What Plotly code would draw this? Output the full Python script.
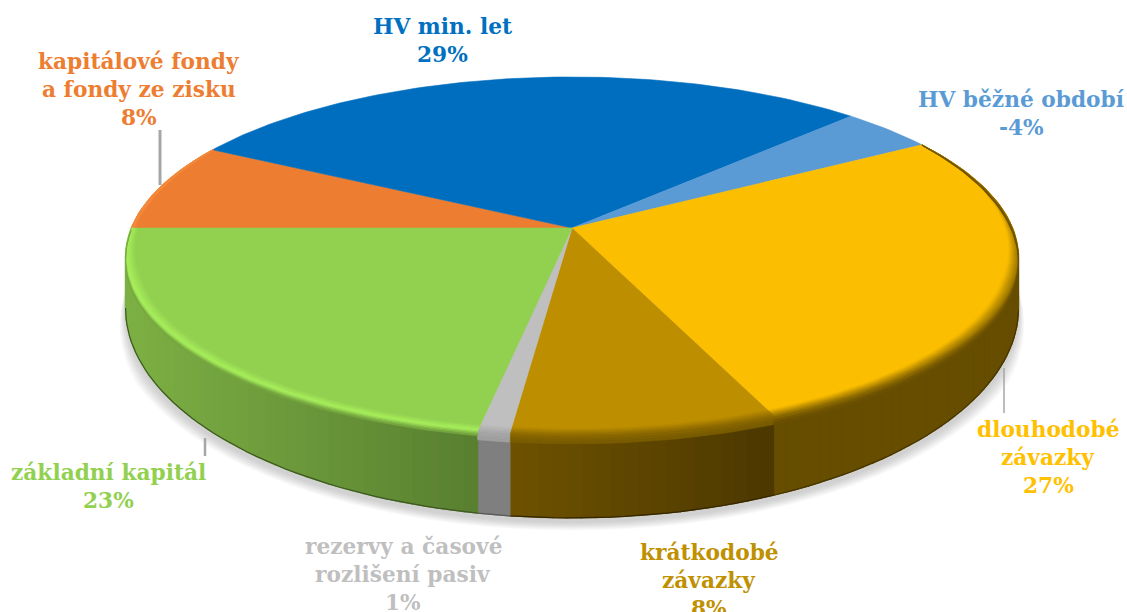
import math
import plotly.graph_objects as go

# ---- data (clockwise, starting at the left of the pie)
categories = ["kapitálové fondy a fondy ze zisku", "HV min. let", "HV běžné období",
              "dlouhodobé závazky", "krátkodobé závazky", "rezervy a časové rozlišení pasiv",
              "základní kapitál"]
values = [8.0, 29.4, -4.0, 27.2, 8.3, 1.0, 22.1]
top_colors = ["#ED7D31", "#006EBE", "#5B9BD5", "#FBBE00", "#BD8E00", "#BFBFBF", "#92D050"]
side_left = ["#B5601F", "#004A80", "#3D6E9C", "#664D00", "#6E5200", "#7F7F7F", "#7DB044"]
side_right = ["#B5601F", "#004A80", "#3D6E9C", "#664D00", "#4C3800", "#7F7F7F", "#587F30"]
rim_colors = ["#F58A3C", None, None, "#6A5000", "#7A5C00", "#A0A0A0", "#A8F05C"]
label_lines = [["kapitálové fondy", "a fondy ze zisku", "8%"], ["HV min. let", "29%"],
               ["HV běžné období", "-4%"], ["dlouhodobé", "závazky", "27%"],
               ["krátkodobé", "závazky", "8%"], ["rezervy a časové", "rozlišení pasiv", "1%"],
               ["základní kapitál", "23%"]]
label_x = [139, 442, 1021, 1048, 709, 403, 108]
label_y = [61, 26, 99, 429, 552, 546, 472]
label_colors = ["#ED7D31", "#0070C0", "#5B9BD5", "#FFC000", "#BF9000", "#BFBFBF", "#92D050"]

# ---- projection of the pie disc
CX, CY, A, B, K = 572, 228, 441, 174.6, 0.156
START = -90.0


def project(deg, r=1.0, off=0.0):
    a = math.radians(deg)
    u, v = r * math.sin(a), r * math.cos(a)
    w = 1 + K * v
    return CX + A * u / w, CY - B * v / w + off


def wall(deg, r=1.0, extra=0.0):
    """point on the lower edge of the side wall"""
    x, y = project(deg, r)
    return x, y + 52 + 31 * (y - 256) / 179 + extra


def hexrgb(c):
    return tuple(int(c[i:i + 2], 16) for i in (1, 3, 5))


def mix(c1, c2, t):
    a, b = hexrgb(c1), hexrgb(c2)
    return "rgb(%d,%d,%d)" % tuple(round(a[i] + (b[i] - a[i]) * t) for i in range(3))


total = sum(abs(x) for x in values)
bounds = [START]
for x in values:
    bounds.append(bounds[-1] + abs(x) / total * 360)


def arc(a0, a1, n):
    return [a0 + (a1 - a0) * i / n for i in range(n + 1)]


fig = go.Figure()


def poly(pts, color, opacity=1.0, name=None, lw=None):
    fig.add_trace(go.Scatter(x=[p[0] for p in pts] + [pts[0][0]], y=[p[1] for p in pts] + [pts[0][1]],
                             mode="lines", fill="toself", fillcolor=color, opacity=opacity,
                             line=dict(width=(0.6 if lw is None else lw) if opacity == 1 else 0, color=color),
                             hoverinfo="skip" if name is None else "name", name=name or "",
                             showlegend=False))


SIL = -K  # cos(angle) of the silhouette points of the disc

# soft shadow under the pie
for i in range(10):
    grow = 0.03 - i * 0.003
    pts = []
    for d in range(90, 271, 3):
        fade = min(1.0, max(0.0, -math.cos(math.radians(d))) / 0.45)
        pts.append(wall(d, 1 + grow * fade, 4 * fade))
    poly(pts, "#707070", 0.035)

# side wall, with a gradient inside each slice
for i in range(len(values)):
    a0, a1 = bounds[i], bounds[i + 1]
    n = max(2, int(abs(a1 - a0) / 1.5))
    seq = arc(a0, a1, n)
    xs = [project(d)[0] for d in seq]
    lo, hi = min(xs), max(xs)
    for j in range(n):
        d0, d1 = seq[j], seq[j + 1]
        if math.cos(math.radians((d0 + d1) / 2)) > SIL + 0.03:
            continue
        t = ((xs[j] + xs[j + 1]) / 2 - lo) / max(hi - lo, 1)
        col = mix(side_left[i], side_right[i], t)
        poly([project(d0), project(d1), wall(d1), wall(d0)], col, lw=1.3)
    # dark lower edge
    vis = [d for d in seq if math.cos(math.radians(d)) <= SIL]
    if len(vis) > 1:
        pts = [wall(d) for d in vis]
        fig.add_trace(go.Scatter(x=[p[0] for p in pts], y=[p[1] for p in pts], mode="lines",
                                 line=dict(width=1.2, color=mix(side_right[i], "#000000", 0.3)),
                                 hoverinfo="skip", showlegend=False))

# top face of each slice
for i, cat in enumerate(categories):
    seq = arc(bounds[i], bounds[i + 1], max(3, int(abs(bounds[i + 1] - bounds[i]))))
    poly([(CX, CY)] + [project(d) for d in seq], top_colors[i], name=cat)

# bevel between the top face and the side wall
LAYERS = 9
for i in range(len(values)):
    if rim_colors[i] is None:
        continue
    seq = arc(bounds[i], bounds[i + 1], max(3, int(abs(bounds[i + 1] - bounds[i]) / 1.5)))
    drop = 5 if i == 6 else 9
    for l in range(LAYERS):
        t0, t1 = l / LAYERS, (l + 1) / LAYERS

        def band(d, t):
            v = math.cos(math.radians(d))
            f = max(0.0, min(1.0, (0.6 - v) / 0.9))
            r = 1 - 0.026 * f * (1 - min(t / 0.6, 1))
            off = drop * f * max(0.0, (t - 0.6) / 0.4)
            return project(d, r, off)
        inner = [band(d, t0) for d in seq]
        outer = [band(d, t1) for d in reversed(seq)]
        tm = (t0 + t1) / 2
        if i == 6:  # green: bright highlight in the middle
            col = mix(top_colors[i], rim_colors[i], tm / 0.55) if tm < 0.55 else \
                mix(rim_colors[i], "#6E9C3C", (tm - 0.55) / 0.45)
        else:
            col = mix(top_colors[i], rim_colors[i], min(tm / 0.9, 1))
        poly(inner + outer, col)

# labels
ann = []
for lines, x, y, c in zip(label_lines, label_x, label_y, label_colors):
    for n, line in enumerate(lines):
        ann.append(dict(x=x, y=y + 28 * n, text=line, showarrow=False, xanchor="center", yanchor="middle",
                        font=dict(family="DejaVu Serif", size=21.7, color=c, weight="bold")))

# leader lines
leader = [(160, 130, 160, 185, 3), (1004, 368, 1004, 413, 1.5), (205, 438, 205, 456, 2.5)]
shapes = [dict(type="line", x0=a, y0=b, x1=c, y1=d, line=dict(color="#A6A6A6", width=w))
          for a, b, c, d, w in leader]

fig.update_layout(width=1127, height=612, margin=dict(l=0, r=0, t=0, b=0), autosize=False,
                  paper_bgcolor="white", plot_bgcolor="white", showlegend=False,
                  xaxis=dict(range=[0, 1127], visible=False, fixedrange=True),
                  yaxis=dict(range=[612, 0], visible=False, fixedrange=True),
                  annotations=ann, shapes=shapes)
fig.write_html("out.html", config=dict(displayModeBar=False),
               post_script="document.body.style.margin='0';document.body.style.overflow='hidden';")
